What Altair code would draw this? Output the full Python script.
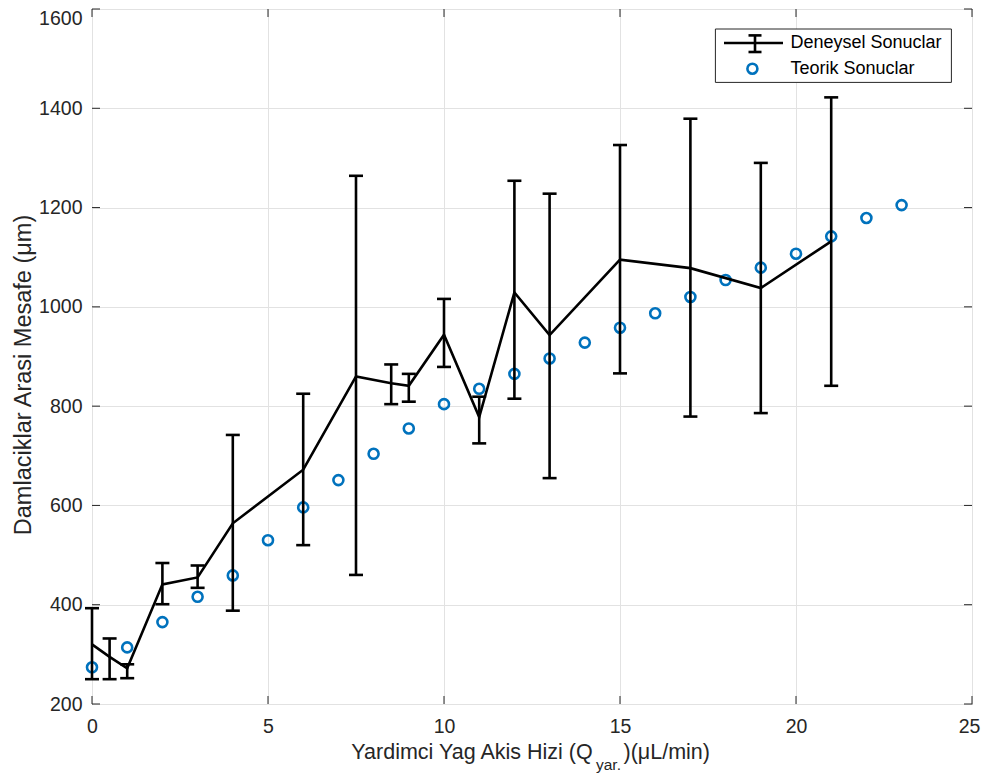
import altair as alt
import pandas as pd

# Experimental results (Deneysel Sonuclar) with error bars
exp_x = [0, 0.5, 1, 2, 3, 4, 6, 7.5, 8.5, 9, 10, 11, 12, 13, 15, 17, 19, 21]
exp_y = [320, 295, 272, 441, 455, 564, 672, 860, 846, 841, 944, 778, 1029, 943, 1095, 1078, 1038, 1132]
exp_lo = [250, 250, 252, 401, 434, 388, 520, 460, 804, 809, 879, 725, 815, 655, 866, 779, 786, 841]
exp_hi = [393, 332, 280, 484, 479, 742, 825, 1264, 884, 865, 1016, 819, 1254, 1228, 1326, 1379, 1290, 1422]

# Theoretical results (Teorik Sonuclar)
theo_x = list(range(24))
theo_y = [274, 314, 365, 416, 459, 530, 596, 651, 704, 755, 804, 835, 865, 896,
          928, 958, 987, 1020, 1054, 1079, 1107, 1142, 1179, 1205]

x_ticks = [0, 5, 10, 15, 20, 25]
y_ticks = [200, 400, 600, 800, 1000, 1200, 1400, 1600]

W, H = 880, 695
FONT = "Liberation Sans"
AX = "#262626"
BLUE = "#0072BD"

exp_df = pd.DataFrame({"x": exp_x, "y": exp_y, "lo": exp_lo, "hi": exp_hi})
theo_df = pd.DataFrame({"x": theo_x, "y": theo_y})
xt_df = pd.DataFrame({"x": x_ticks})
yt_df = pd.DataFrame({"y": y_ticks})
one = pd.DataFrame({"a": [0]})

xs = alt.Scale(domain=[0, 25], nice=False, zero=False)
ys = alt.Scale(domain=[200, 1600], nice=False, zero=False)

x_axis = alt.Axis(values=x_ticks, grid=True, gridColor="#e2e2e2", ticks=False, domain=False,
                  labelFontSize=19.5, labelColor=AX, labelFont=FONT, labelPadding=13,
                  labelFlush=False, format="d", title=None,
                  labelOffset={"condition": {"test": "datum.value == 25", "value": -3},
                               "value": 0})
y_axis = alt.Axis(values=y_ticks, grid=True, gridColor="#e2e2e2", ticks=False, domain=False,
                  labelFontSize=19.5, labelColor=AX, labelFont=FONT, labelPadding=10,
                  labelFlush=False, format="d", title=None,
                  labelBaseline={"condition": {"test": "datum.value == 1600", "value": "top"},
                                 "value": "middle"})


def X(field):
    return alt.X(field, type="quantitative", scale=xs, axis=x_axis)


def Y(field):
    return alt.Y(field, type="quantitative", scale=ys, axis=y_axis)


theo = alt.Chart(theo_df).mark_point(shape="circle", filled=False, size=100, strokeWidth=2.6,
                                      color=BLUE, opacity=1).encode(x=X("x"), y=Y("y"))

bars = alt.Chart(exp_df).mark_rule(color="black", strokeWidth=2.6).encode(
    x=X("x"), y=Y("lo"), y2="hi:Q")
cap_lo = alt.Chart(exp_df).mark_tick(orient="horizontal", size=14, thickness=2.6,
                                     color="black", opacity=1).encode(x=X("x"), y=Y("lo"))
cap_hi = alt.Chart(exp_df).mark_tick(orient="horizontal", size=14, thickness=2.6,
                                     color="black", opacity=1).encode(x=X("x"), y=Y("hi"))
line = alt.Chart(exp_df).mark_line(color="black", strokeWidth=2.6).encode(x=X("x"), y=Y("y"))

# inward ticks on all four sides
tb = alt.Chart(xt_df).mark_rule(color=AX, strokeWidth=1).encode(
    x=X("x"), y=alt.value(H), y2=alt.value(H - 8))
tt = alt.Chart(xt_df).mark_rule(color=AX, strokeWidth=1).encode(
    x=X("x"), y=alt.value(0), y2=alt.value(8))
tl = alt.Chart(yt_df).mark_rule(color=AX, strokeWidth=1).encode(
    y=Y("y"), x=alt.value(0), x2=alt.value(8))
tr = alt.Chart(yt_df).mark_rule(color=AX, strokeWidth=1).encode(
    y=Y("y"), x=alt.value(W - 8), x2=alt.value(W))

# legend
lg_box = alt.Chart(one).mark_rect(fill="white", stroke=AX, strokeWidth=1).encode(
    x=alt.value(623.4), x2=alt.value(859.4), y=alt.value(20), y2=alt.value(73.4))
lg_line = alt.Chart(one).mark_rule(color="black", strokeWidth=2.6).encode(
    x=alt.value(632), x2=alt.value(691), y=alt.value(34))
lg_v = alt.Chart(one).mark_rule(color="black", strokeWidth=2.6).encode(
    x=alt.value(663), y=alt.value(26.4), y2=alt.value(43))
lg_c1 = alt.Chart(one).mark_rule(color="black", strokeWidth=2.6).encode(
    x=alt.value(656.5), x2=alt.value(669.5), y=alt.value(26.4))
lg_c2 = alt.Chart(one).mark_rule(color="black", strokeWidth=2.6).encode(
    x=alt.value(656.5), x2=alt.value(669.5), y=alt.value(43))
lg_pt = alt.Chart(one).mark_point(shape="circle", filled=False, size=100, strokeWidth=2.6,
                                   color=BLUE, opacity=1).encode(x=alt.value(660.4), y=alt.value(59.7))
lg_t1 = alt.Chart(one).mark_text(text="Deneysel Sonuclar", font=FONT, fontSize=18, color="black",
                                  align="left", baseline="middle").encode(x=alt.value(698.5), y=alt.value(34))
lg_t2 = alt.Chart(one).mark_text(text="Teorik Sonuclar", font=FONT, fontSize=18, color="black",
                                  align="left", baseline="middle").encode(x=alt.value(698.5), y=alt.value(59.7))

# axis titles
xt1 = alt.Chart(one).mark_text(text="Yardimci Yag Akis Hizi (Q", font=FONT, fontSize=21.5, color=AX,
                                align="right", baseline="alphabetic").encode(x=alt.value(500.7), y=alt.value(750.2))
xt2 = alt.Chart(one).mark_text(text="yar.", font=FONT, fontSize=15.5, color=AX,
                                align="left", baseline="alphabetic").encode(x=alt.value(504), y=alt.value(760.5))
xt3 = alt.Chart(one).mark_text(text=")(μL/min)", font=FONT, fontSize=21.5, color=AX,
                                align="left", baseline="alphabetic").encode(x=alt.value(531.5), y=alt.value(750.2))
yt = alt.Chart(one).mark_text(text="Damlaciklar Arasi Mesafe (μm)", font=FONT, fontSize=23.5, color=AX,
                               align="center", baseline="alphabetic", angle=270).encode(
    x=alt.value(-61.5), y=alt.value(366))

chart = alt.layer(
    theo, bars, cap_lo, cap_hi, line, tb, tt, tl, tr,
    lg_box, lg_line, lg_v, lg_c1, lg_c2, lg_pt, lg_t1, lg_t2,
    xt1, xt2, xt3, yt
).properties(
    width=W, height=H,
    padding={"left": 84, "top": 1, "right": 9, "bottom": 70},
    autosize=alt.AutoSizeParams(type="none"),
    background="white",
).configure_view(stroke=AX, strokeWidth=1)

chart.save("out.html", embed_options={"renderer": "svg", "actions": False})
